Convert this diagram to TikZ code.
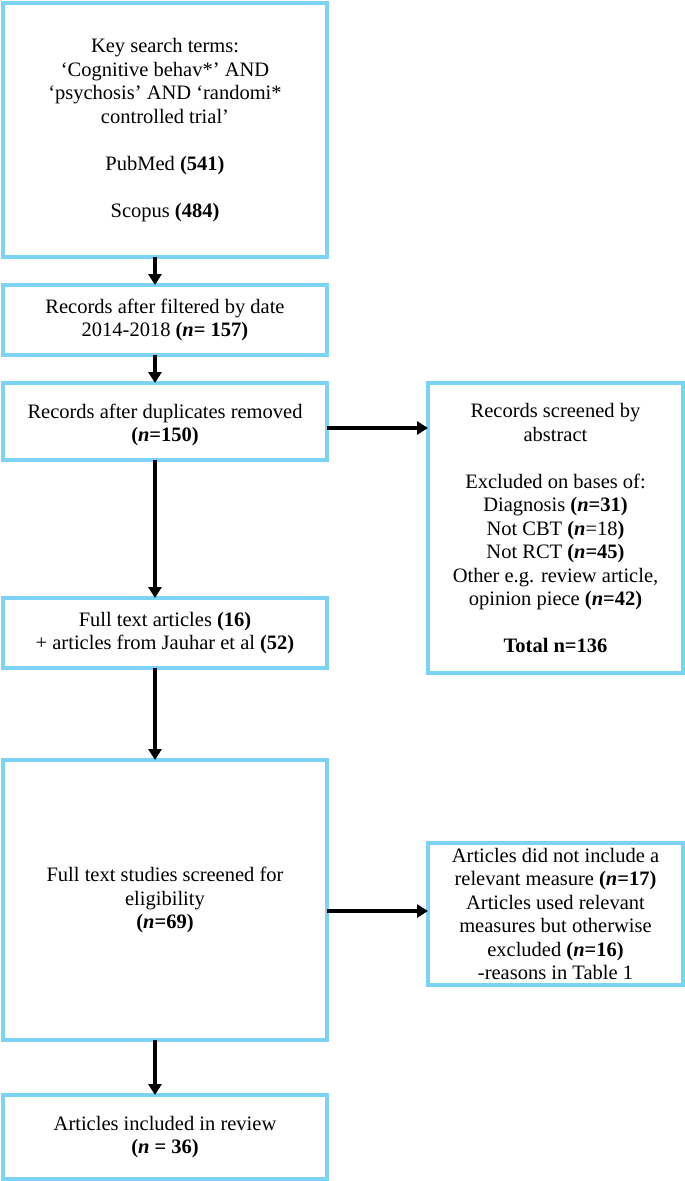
\documentclass[tikz,border=0pt]{standalone}
\usepackage{fontspec}
\setmainfont{Liberation Serif}
\usetikzlibrary{arrows.meta}
\definecolor{bx}{HTML}{7DD3F5}
\begin{document}
\begin{tikzpicture}[x=1pt,y=-1pt,
 box/.style={draw=bx,line width=3.5pt,inner sep=0pt,align=center,font=\fontsize{20.5}{23.5}\selectfont},
 arr/.style={-{Triangle[length=11pt,width=13pt]},line width=3.5pt}]
\useasboundingbox (0,0) rectangle (685,1181);
\newcommand{\bxx}[6]{\node[box,minimum width=#3-#1,minimum height=#4-#2] (#5) at ({(#1+#3)/2},{(#2+#4)/2}) {#6};}
\bxx{3}{3}{327}{257}{a}{Key search terms:\\ `Cognitive behav*' AND\\ `psychosis' AND `randomi*\\ controlled trial'\\[23.5pt] PubMed \textbf{(541)}\\[23.5pt] Scopus \textbf{(484)}}
\bxx{3}{285}{327}{355}{b}{Records after filtered by date\\ 2014-2018 \textbf{(\textit{n}= 157)}}
\node[box,minimum width=324,minimum height=77] (c) at (165,421.5) {};
\node[font=\fontsize{20.5}{23.5}\selectfont,align=center] at (165,425) {Records after duplicates removed\\ \textbf{(\textit{n}=150)}};
\bxx{428}{383}{683}{673}{s1}{Records screened by\\ abstract\\[23.5pt] Excluded on bases of:\\ Diagnosis \textbf{(\textit{n}=31)}\\ Not CBT \textbf{(\textit{n}}=18\textbf{)}\\ Not RCT \textbf{(\textit{n}=45)}\\ Other e.g. review article,\\ opinion piece \textbf{(\textit{n}=42)}\\[23.5pt] \textbf{Total n=136}}
\bxx{3}{598}{327}{668}{d}{Full text articles \textbf{(16)}\\ + articles from Jauhar et al \textbf{(52)}}
\bxx{3}{760}{327}{1040}{e}{Full text studies screened for\\ eligibility\\ \textbf{(\textit{n}=69)}}
\bxx{428}{843}{683}{985}{s2}{Articles did not include a\\ relevant measure \textbf{(\textit{n}=17)}\\ Articles used relevant\\ measures but otherwise\\ excluded \textbf{(\textit{n}=16)}\\ -reasons in Table 1}
\bxx{3}{1095}{327}{1179}{f}{Articles included in review\\ \textbf{(\textit{n} = 36)}}
\draw[arr] (155,257) -- (155,285);
\draw[arr] (155,355) -- (155,383);
\draw[arr] (155,460) -- (155,598);
\draw[arr] (155,668) -- (155,760);
\draw[arr] (155,1040) -- (155,1095);
\draw[arr] (327,428) -- (428,428);
\draw[arr] (327,911) -- (428,911);
\end{tikzpicture}
\end{document}
